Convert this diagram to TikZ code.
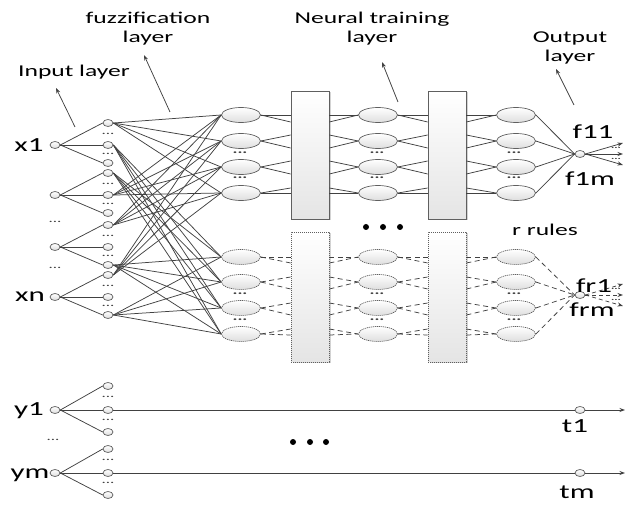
\documentclass[tikz,border=0pt]{standalone}
\usepackage{fontspec}
\setmainfont{Carlito}[FakeStretch=1.55]
\usepackage{tikz}
\usetikzlibrary{positioning,calc,arrows.meta,shapes.geometric,shadows}
\definecolor{lineCol}{RGB}{65,65,65}
\definecolor{rimCol}{RGB}{95,95,95}
\definecolor{fillCol}{RGB}{222,222,222}
\tikzset{myEdge/.style={color=lineCol, line width=0.75pt}}
\tikzset{myDash/.style={myEdge, dash pattern=on 5pt off 3.5pt}}
\tikzset{myArrow/.style={myEdge, -{Stealth[length=5.5pt,width=4pt]}}}
\tikzset{myDot/.style={ellipse, draw=rimCol, line width=0.7pt, top color=white, bottom color=fillCol, minimum width=10pt, minimum height=7pt, inner sep=0pt}}
\tikzset{myRule/.style={myDot, minimum width=39pt, minimum height=15pt}}
\tikzset{myRuleDash/.style={myRule, dash pattern=on 1.2pt off 0.8pt}}
\tikzset{myBox/.style={rectangle, draw=rimCol, line width=0.7pt, top color=white, bottom color=fillCol!80, minimum width=38pt, minimum height=128pt, drop shadow={shadow xshift=1.5pt, shadow yshift=-1.5pt, fill=gray, opacity=0.35}}}
\tikzset{myBoxDash/.style={myBox, minimum height=130pt, dash pattern=on 1.2pt off 0.8pt}}
\tikzset{myLabel/.style={font=\fontsize{16.5}{18}\selectfont, inner sep=0pt, anchor=base}}
\tikzset{myVar/.style={font=\fontsize{20}{22}\selectfont, inner sep=0pt, anchor=base}}
\tikzset{myDots/.style={font=\fontsize{11}{11}\selectfont, inner sep=0pt, text=lineCol}}
\tikzset{myRuleDots/.style={font=\bfseries\fontsize{12}{12}\selectfont, inner sep=0pt, text=lineCol}}
\tikzset{myTinyDots/.style={font=\bfseries\fontsize{8}{8}\selectfont, inner sep=0pt, text=lineCol}}

\begin{document}
\begin{tikzpicture}[x=1pt,y=-1pt]
        \useasboundingbox (0,0) rectangle (630,505);
        %\draw[help lines, step=10] (0,0) grid (630,505);

        % layer titles and their pointers
        \node[myLabel] (inTitle) at (74,77) {Input layer};
        \node[myLabel] (fzTitleA) at (148,24) {fuzzification};
        \node[myLabel] (fzTitleB) at (148,43) {layer};
        \node[myLabel] (nnTitleA) at (372,24) {Neural training};
        \node[myLabel] (nnTitleB) at (372,43) {layer};
        \node[myLabel] (outTitleA) at (570,43) {Output};
        \node[myLabel] (outTitleB) at (570,62) {layer};
        \node[myLabel] (rRules) at (545,236) {r rules};
        \coordinate (inTail) at (75,127);   \coordinate (inTip) at (56,88);
        \coordinate (fzTail) at (170,112);  \coordinate (fzTip) at (144,55);
        \coordinate (nnTail) at (398,102);  \coordinate (nnTip) at (382,62);
        \coordinate (outTail) at (574,105); \coordinate (outTip) at (556,69);
        \draw[myArrow] (inTail) -- (inTip);
        \draw[myArrow] (fzTail) -- (fzTip);
        \draw[myArrow] (nnTail) -- (nnTip);
        \draw[myArrow] (outTail) -- (outTip);

        % inputs x1..xn with their membership nodes
        \foreach \g/\yy in {1/145,2/195,3/247,4/297}{
            \node[myDot] (in\g) at (55,\yy) {};
            \node[myDot] (fz\g-1) at (108,\yy-22) {};
            \node[myDot] (fz\g-2) at (108,\yy) {};
            \node[myDot] (fz\g-3) at (108,\yy+18) {};
            \node[myDots] (fzDotA\g) at (108,\yy-11.5) {...};
            \node[myDots] (fzDotB\g) at (108,\yy+8.5) {...};
            \foreach \k in {1,2,3}
                \draw[myEdge] (in\g.east) -- (fz\g-\k.west);
        }
        \node[myVar] (xLab1) at (29,152) {x1};
        \node[myVar] (xLabN) at (30,302) {xn};
        \node[myDots] (inDotA) at (55,222) {...};
        \node[myDots] (inDotB) at (55,268) {...};

        % inputs y1..ym passed straight through to t1..tm
        \foreach \g/\yy in {1/410,2/473}{
            \node[myDot] (iy\g) at (55,\yy) {};
            \node[myDot] (fy\g-1) at (108,\yy-24) {};
            \node[myDot] (fy\g-2) at (108,\yy) {};
            \node[myDot] (fy\g-3) at (108,\yy+22) {};
            \node[myDots] (fyDotA\g) at (108,\yy-13.5) {...};
            \node[myDots] (fyDotB\g) at (108,\yy+9.5) {...};
            \foreach \k in {1,2,3}
                \draw[myEdge] (iy\g.east) -- (fy\g-\k.west);
            \node[myDot] (t\g) at (580,\yy) {};
            \coordinate (tEnd\g) at (625,\yy);
            \draw[myEdge] (fy\g-2.east) -- (t\g.west);
            \draw[myArrow] (t\g.east) -- (tEnd\g);
        }
        \node[myVar] (yLab1) at (29,415) {y1};
        \node[myVar] (yLabM) at (30,478) {ym};
        \node[myDots] (iyDot) at (53,440) {...};
        \node[myVar] (tLab1) at (575,432) {t1};
        \node[myVar] (tLabM) at (577,498) {tm};

        % rule nodes, three columns, the lower block stands for r rules
        \foreach \k/\yy/\st in {1/115/myRule,2/141/myRule,3/167/myRule,4/193/myRule,5/257/myRuleDash,6/282/myRuleDash,7/308/myRuleDash,8/334/myRuleDash}{
            \node[\st] (ra\k) at (241,\yy) {};
            \node[\st] (rb\k) at (378,\yy) {};
            \node[\st] (rc\k) at (516,\yy) {};
        }
        \foreach \c/\xx in {a/240,b/377,c/514}{
            \node[myRuleDots] (dot\c1) at (\xx,153) {...};
            \node[myRuleDots] (dot\c2) at (\xx,178) {...};
            \node[myRuleDots] (dot\c3) at (\xx,294) {...};
            \node[myRuleDots] (dot\c4) at (\xx,320) {...};
        }
        \node[myBox] (boxA1) at (310,155) {};
        \node[myBoxDash] (boxA2) at (310,297) {};
        \node[myBox] (boxB1) at (447,155) {};
        \node[myBoxDash] (boxB2) at (447,297) {};
        \node[myDot] (out1) at (580,154) {};
        \node[myDot] (out2) at (580,295) {};

        % membership nodes to rules
        \foreach \f/\lo in {1-1/1,1-2/5,2-1/5,2-2/1,3-1/1,3-3/5,4-1/1,4-3/5}
            \foreach \i in {0,1,2,3}{
                \pgfmathtruncatemacro{\ruleNo}{\lo+\i}
                \draw[myEdge] (fz\f.east) -- (ra\ruleNo.west);
            }

        % rules through the training blocks
        \foreach \k/\bx/\ua/\ub/\st in {1/1/0/7/myEdge,2/1/-6/7/myEdge,3/1/-6/7/myEdge,4/1/-5/0/myEdge,5/2/0/6/myDash,6/2/-5/7/myDash,7/2/-5/7/myDash,8/2/-5/1/myDash}{
            \foreach \u in {\ua,\ub}{
                \draw[\st] (ra\k.east) -- ($(boxA\bx.west |- ra\k)+(0,\u)$);
                \draw[\st] ($(boxA\bx.east |- rb\k)+(0,\u)$) -- (rb\k.west);
                \draw[\st] (rb\k.east) -- ($(boxB\bx.west |- rb\k)+(0,\u)$);
                \draw[\st] ($(boxB\bx.east |- rc\k)+(0,\u)$) -- (rc\k.west);
            }
            \draw[\st] (rc\k.east) -- (out\bx.west);
        }

        % outputs
        \foreach \n/\yy in {1/143,2/154,3/165}{
            \coordinate (fOne\n) at (623,\yy);
            \draw[myArrow] (out1.east) -- (fOne\n);
        }
        \foreach \n/\yy in {1/284,2/295,3/306}{
            \coordinate (fRule\n) at (623,\yy);
            \draw[myArrow, dash pattern=on 4pt off 3pt] (out2.east) -- (fRule\n);
        }
        \node[myTinyDots] (fOneDotA) at (616,148) {...};
        \node[myTinyDots] (fOneDotB) at (616,159) {...};
        \node[myTinyDots] (fRuleDotA) at (616,289) {...};
        \node[myTinyDots] (fRuleDotB) at (616,300) {...};
        \node[myVar] (fLab11) at (593,139) {f11};
        \node[myVar] (fLab1m) at (590,186) {f1m};
        \node[myVar] (fLabr1) at (594,293) {fr1};
        \node[myVar] (fLabrm) at (592,317) {frm};

        % ellipsis between rule blocks and between the t lines
        \foreach \xx in {366,383,400}
            \fill[black] (\xx,227) circle [radius=3];
        \foreach \xx in {293,310,326}
            \fill[black] (\xx,442) circle [radius=3];
\end{tikzpicture}
\end{document}
